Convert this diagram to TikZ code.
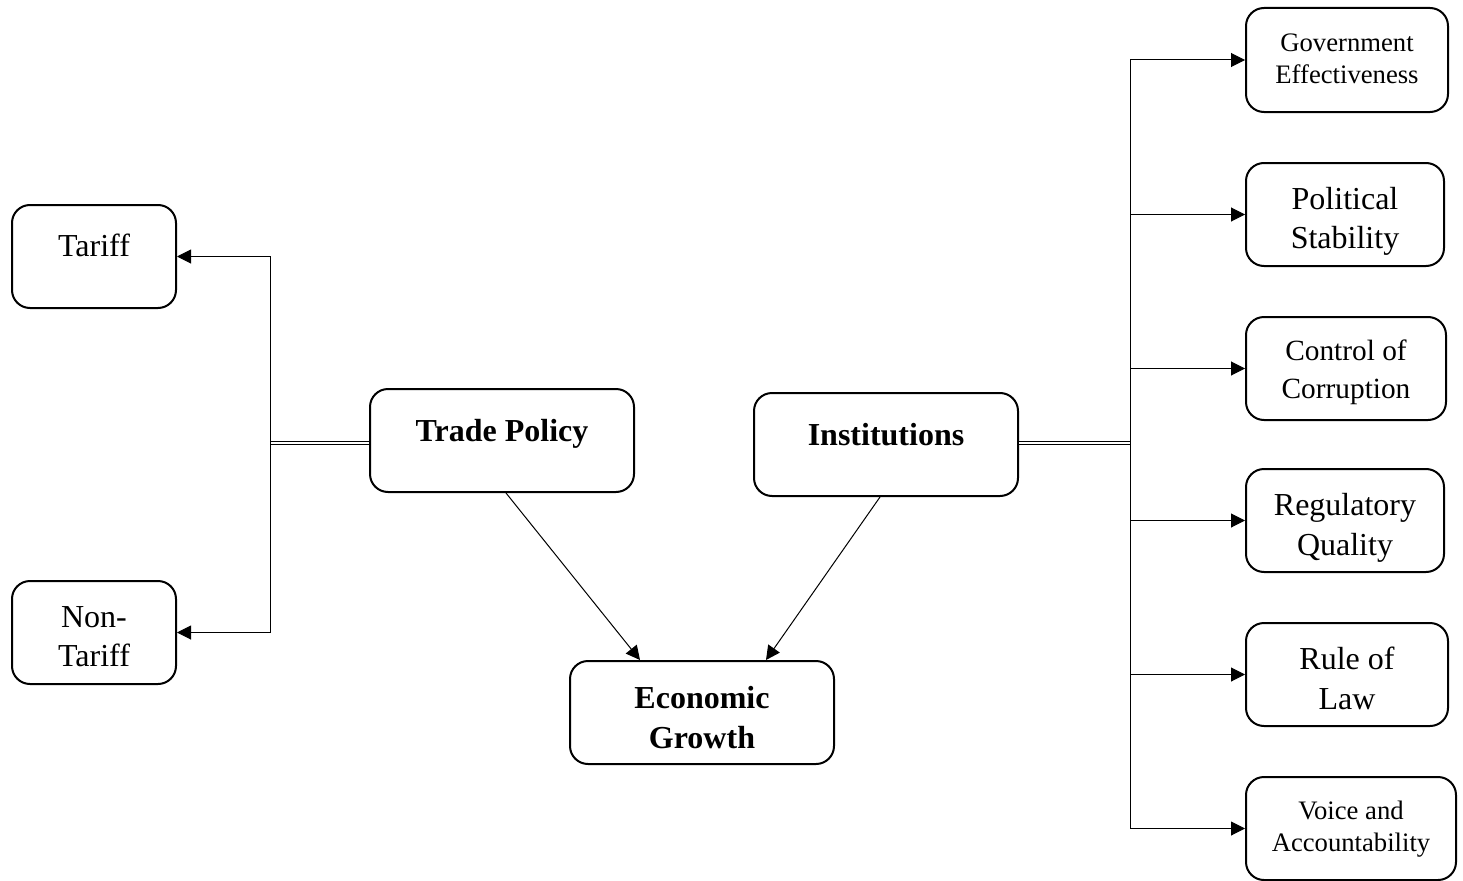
\documentclass[tikz,border=0pt]{standalone}
\usepackage{fontspec}
\setmainfont{Liberation Serif}
\usetikzlibrary{arrows.meta,calc,positioning}

\tikzset{
  box/.style={draw, rounded corners=13.5pt, line width=1.5pt,
              inner sep=0pt, minimum height=77.25pt},
  wide/.style={minimum width=198pt},
  side/.style={minimum width=123pt},
  dim/.style={minimum width=#1},
  big/.style={align=center, font=\fontsize{24}{29.5}\selectfont},
  bigb/.style={align=center, font=\fontsize{24}{30}\selectfont\bfseries},
  mid/.style={align=center, font=\fontsize{22}{28.5}\selectfont},
  small/.style={align=center, font=\fontsize{20}{24}\selectfont},
  arr/.style={-{Triangle[length=10.5pt,width=10.5pt]}, line width=0.75pt},
}

\begin{document}
\begin{tikzpicture}[x=0.75pt, y=-0.75pt]
  \useasboundingbox (0,0) rectangle (1463,881);

  % trade policy side
  \node[box, side] (tariff) at (94,256.5) {};
  \node[big] (tarifft) at ($(tariff)+(0,-11.5)$) {Tariff};
  \node[box, side] (nontariff) at (94,632.5) {};
  \node[big] (nontarifft) at ($(nontariff)+(0,4)$) {Non-\\Tariff};
  \node[box, wide] (trade) at (502,440.5) {};
  \node[bigb] (tradet) at ($(trade)+(0,-7)$) {Trade Policy};

  % centre
  \node[box, wide] (inst) at (886,444.5) {};
  \node[bigb] (instt) at ($(inst)+(0,-10)$) {Institutions};
  \node[box, wide] (econ) at (702,712.5) {};
  \node[bigb] (econt) at ($(econ)+(0,5)$) {Economic\\Growth};

  % institution indicators
  \node[box, dim=151.5pt, minimum height=78pt] (gov) at (1347,60) {};
  \node[small] (govt) at ($(gov)+(0,-1)$) {Government\\Effectiveness};
  \node[box, dim=148.5pt] (pol) at (1345,214.5) {};
  \node[big] (polt) at ($(pol)+(0,7)$) {Political\\Stability};
  \node[box, dim=150pt] (corr) at (1346,368.5) {};
  \node[mid] (corrt) at ($(corr)+(0,4)$) {Control of\\Corruption};
  \node[box, dim=148.5pt] (reg) at (1345,520.5) {};
  \node[big] (regt) at ($(reg)+(0,7.5)$) {Regulatory\\Quality};
  \node[box, dim=151.5pt] (law) at (1347,674.5) {};
  \node[big] (lawt) at ($(law)+(0,4)$) {Rule of\\Law};
  \node[box, dim=157.5pt] (voice) at (1351,828.5) {};
  \node[small] (voicet) at ($(voice)+(0,1)$) {Voice and\\Accountability};

  \coordinate (ljoin) at (270,443);
  \coordinate (rjoin) at (1130,443);

  % branches
  \draw[double, line width=0.75pt, double distance=0.9pt] (trade.west |- ljoin) -- (ljoin);
  \draw[arr] (ljoin) |- (tariff.east);
  \draw[arr] (ljoin) |- (nontariff.east);

  \draw[double, line width=1pt, double distance=0.9pt] (inst.east |- rjoin) -- (rjoin);
  \draw[arr] (rjoin) |- (gov.west);
  \draw[arr] (rjoin) |- (pol.west);
  \draw[arr] (rjoin) |- (corr.west);
  \draw[arr] (rjoin) |- (reg.west);
  \draw[arr] (rjoin) |- (law.west);
  \draw[arr] (rjoin) |- (voice.west);

  % links into growth
  \draw[arr] ($(trade.south)+(4,0)$) -- ($(econ.north)+(-62,0)$);
  \draw[arr] ($(inst.south)+(-6,0)$) -- ($(econ.north)+(64,0)$);
\end{tikzpicture}
\end{document}
